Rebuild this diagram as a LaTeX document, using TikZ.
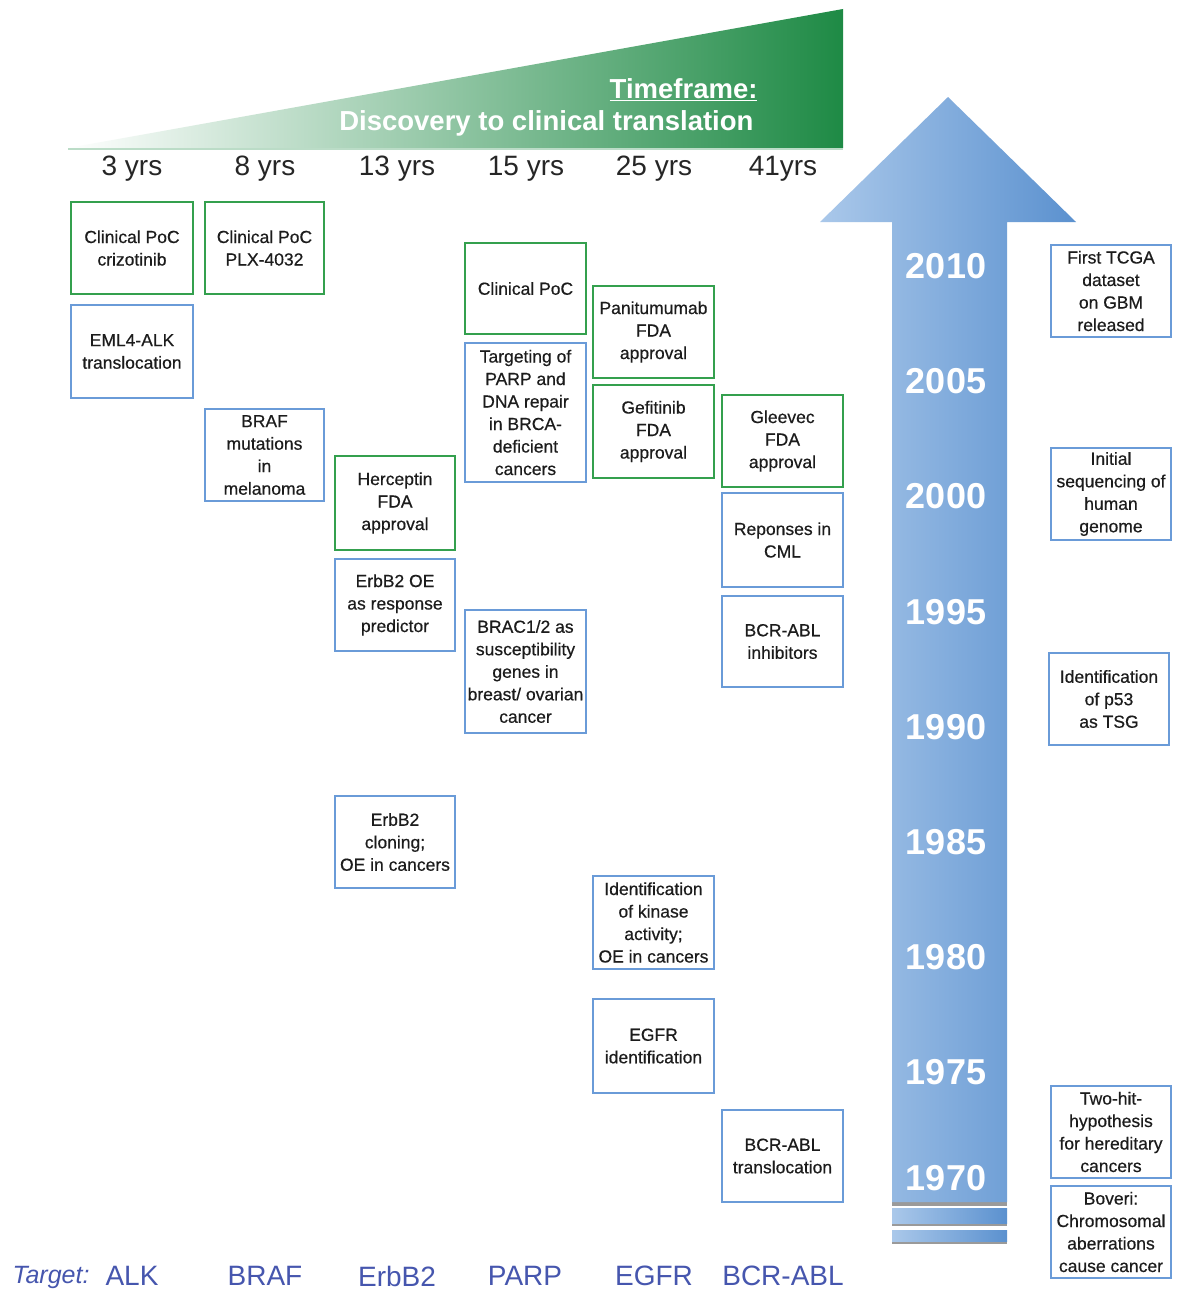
\documentclass[tikz,border=0pt]{standalone}
\usepackage{fontspec}
\setmainfont{Liberation Sans}
\newfontfamily\boxfont[FakeBold=0.5]{Liberation Sans}
\definecolor{boxgreen}{HTML}{34A04E}
\definecolor{boxblue}{HTML}{6A9BD8}
\definecolor{txt}{HTML}{1C1C1C}
\definecolor{yrtxt}{HTML}{262626}
\definecolor{tgt}{HTML}{4656AE}
\definecolor{tgreen}{HTML}{1E8A45}
\definecolor{aleft}{HTML}{AAC8EA}
\definecolor{aright}{HTML}{5B91CF}
\definecolor{shadowgray}{HTML}{9A9A9A}
\begin{document}
\begin{tikzpicture}[x=1pt,y=-1pt,
 box/.style={draw, line width=1.8pt, inner sep=0pt, minimum width=121pt, minimum height=92pt, align=center, font=\boxfont\fontsize{17.5}{22.5}\selectfont, text=txt},
 gbox/.style={box, draw=boxgreen},
 bbox/.style={box, draw=boxblue},
 yrlab/.style={font=\fontsize{28}{30}\selectfont, text=yrtxt},
 tglab/.style={font=\fontsize{28}{30}\selectfont, text=tgt},
 arryear/.style={font=\bfseries\fontsize{36}{40}\selectfont, text=white}]
\useasboundingbox (0,0) rectangle (1181,1290);
\fill[white] (0,0) rectangle (1181,1290);

% green timeframe triangle
\shade[left color=white, middle color=tgreen!40, right color=tgreen] (68,148) -- (843,9) -- (843,148) -- cycle;
\draw[line width=2pt, color=tgreen!30] (68,149) -- (843,149);
\node[anchor=east, font=\bfseries\fontsize{27.5}{30}\selectfont, text=white] (tf) at (761,90) {\underline{Timeframe:}};
\node[anchor=east, font=\bfseries\fontsize{27.5}{30}\selectfont, text=white] (dc) at (757,123) {Discovery to clinical translation};

% year spans
\node[yrlab] (y1) at (132,169) {3 yrs};
\node[yrlab] (y2) at (265,169) {8 yrs};
\node[yrlab] (y3) at (397,169) {13 yrs};
\node[yrlab] (y4) at (526,169) {15 yrs};
\node[yrlab] (y5) at (654,169) {25 yrs};
\node[yrlab] (y6) at (783,169) {41yrs};

% blue time arrow
\fill[shadowgray] (892,1202) rectangle (1007,1206);
\shade[left color=aleft, right color=aright] (948,97) -- (1076,222) -- (1007,222) -- (1007,1202) -- (892,1202) -- (892,222) -- (820,222) -- cycle;
\fill[shadowgray] (892,1222) rectangle (1007,1226);
\shade[left color=aleft, right color=aright] (892,1208) rectangle (1007,1223);
\fill[shadowgray] (892,1240) rectangle (1007,1244);
\shade[left color=aleft, right color=aright] (892,1230) rectangle (1007,1241);

\node[arryear] (t2010) at (946,266) {2010};
\node[arryear] (t2005) at (946,381) {2005};
\node[arryear] (t2000) at (946,496) {2000};
\node[arryear] (t1995) at (946,612) {1995};
\node[arryear] (t1990) at (946,727) {1990};
\node[arryear] (t1985) at (946,842) {1985};
\node[arryear] (t1980) at (946,957) {1980};
\node[arryear] (t1975) at (946,1072) {1975};
\node[arryear] (t1970) at (946,1178) {1970};

% ALK column
\node[gbox, minimum width=122pt] (c1) at (132,248) {Clinical PoC\\crizotinib};
\node[bbox, minimum width=122pt, minimum height=93pt] (a1) at (132,351.5) {EML4-ALK\\translocation};
% BRAF column
\node[gbox, minimum width=119pt] (c2) at (264.5,248) {Clinical PoC\\PLX-4032};
\node[bbox, minimum width=119pt] (b2) at (264.5,455) {BRAF\\mutations\\in\\melanoma};
% ErbB2 column
\node[gbox, minimum width=120pt, minimum height=94pt] (h3) at (395,503) {Herceptin\\FDA\\approval};
\node[bbox, minimum width=120pt] (e3) at (395,605) {ErbB2 OE\\as response\\predictor};
\node[bbox, minimum width=120pt] (k3) at (395,842) {ErbB2\\cloning;\\OE in cancers};
% PARP column
\node[gbox, minimum height=91pt] (c4) at (525.5,288.5) {Clinical PoC};
\node[bbox, minimum height=139pt] (t4) at (525.5,412.5) {Targeting of\\PARP and\\DNA repair\\in BRCA-\\deficient\\cancers};
\node[bbox, minimum height=123pt] (r4) at (525.5,671.5) {BRAC1/2 as\\susceptibility\\genes in\\breast/ ovarian\\cancer};
% EGFR column
\node[gbox] (p5) at (653.5,332) {Panitumumab\\FDA\\approval};
\node[gbox, minimum height=93pt] (g5) at (653.5,431.5) {Gefitinib\\FDA\\approval};
\node[bbox, minimum height=93pt] (i5) at (653.5,922.5) {Identification\\of kinase\\activity;\\OE in cancers};
\node[bbox, minimum height=94pt] (e5) at (653.5,1046) {EGFR\\identification};
% BCR-ABL column
\node[gbox] (gl6) at (782.5,441) {Gleevec\\FDA\\approval};
\node[bbox, minimum height=94pt] (rs6) at (782.5,540) {Reponses in\\CML};
\node[bbox, minimum height=91pt] (bi6) at (782.5,641.5) {BCR-ABL\\inhibitors};
\node[bbox] (bt6) at (782.5,1156) {BCR-ABL\\translocation};

% right milestones
\node[bbox, minimum width=120pt] (tc) at (1111,291) {First TCGA\\dataset\\on GBM\\released};
\node[bbox, minimum width=120pt] (hg) at (1111,494) {Initial\\sequencing of\\human\\genome};
\node[bbox, minimum width=120pt] (p53) at (1109,699) {Identification\\of p53\\as TSG};
\node[bbox, minimum width=120pt] (th) at (1111,1132) {Two-hit-\\hypothesis\\for hereditary\\cancers};
\node[bbox, minimum width=120pt] (bo) at (1111,1232) {Boveri:\\Chromosomal\\aberrations\\cause cancer};

% targets
\node[tglab, anchor=west, font=\itshape\fontsize{25}{30}\selectfont] (tgt) at (9,1277) {Target:};
\node[tglab] (g1) at (132,1276) {ALK};
\node[tglab] (g2) at (265,1276) {BRAF};
\node[tglab] (g3) at (397,1276) {ErbB2};
\node[tglab] (g4) at (525,1276) {PARP};
\node[tglab] (g5l) at (654,1276) {EGFR};
\node[tglab] (g6) at (783,1276) {BCR-ABL};
\end{tikzpicture}
\end{document}
